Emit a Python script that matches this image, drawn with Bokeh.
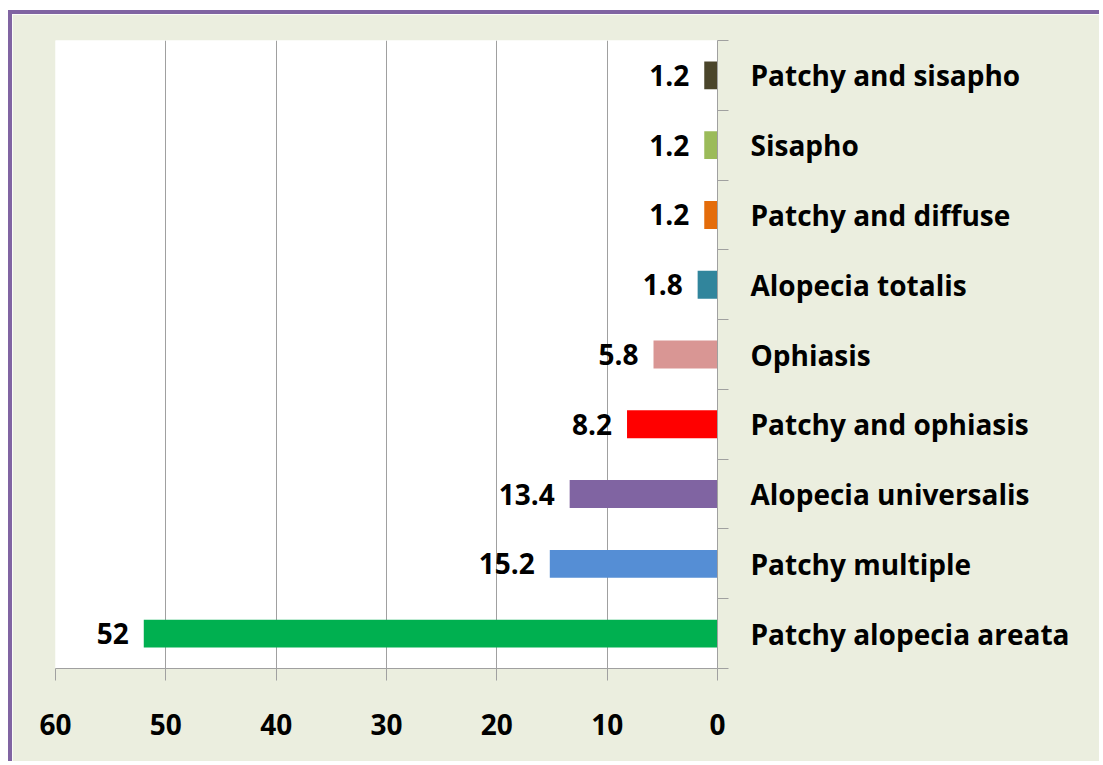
from bokeh.plotting import figure
from bokeh.models import Range1d, FixedTicker, LinearAxis, ColumnDataSource
from bokeh.core.properties import value
from bokeh.embed import file_html
from bokeh.resources import INLINE

categories = ["Patchy alopecia areata", "Patchy multiple", "Alopecia universalis",
              "Patchy and ophiasis", "Ophiasis", "Alopecia totalis",
              "Patchy and diffuse", "Sisapho", "Patchy and sisapho"]
values = [52, 15.2, 13.4, 8.2, 5.8, 1.8, 1.2, 1.2, 1.2]
value_labels = ["52", "15.2", "13.4", "8.2", "5.8", "1.8", "1.2", "1.2", "1.2"]
colors = ["#00B050", "#558ED5", "#8064A2", "#FF0000", "#D99694",
          "#31859C", "#E46C0A", "#9BBB59", "#4A452A"]
x_ticks = [0, 10, 20, 30, 40, 50, 60]

FONT = "Open Sans"
FSIZE = "28px"
BG = "#EBEEDF"
GRID = "#A0A0A0"

ypos = [i + 0.5 for i in range(len(categories))]
src = ColumnDataSource(dict(y=ypos, v=values, lab=value_labels, c=colors))

p = figure(width=1091, height=751, output_backend="svg", toolbar_location=None,
           x_range=Range1d(60, 0), y_range=Range1d(0, len(categories)),
           x_axis_location=None, y_axis_location=None,
           min_border_left=43, min_border_right=386, min_border_top=26, min_border_bottom=97,
           background_fill_color="white", border_fill_color=BG,
           styles={"border-left": "4px solid #8064A2", "border-top": "4px solid #8064A2",
                   "margin-top": "10px", "margin-left": "8px"})
p.outline_line_color = None

p.hbar(y="y", left=0, right="v", height=0.4, color="c", line_color=None, source=src)
p.text(x="v", y="y", text="lab", source=src, text_align="right", text_baseline="middle",
       x_offset=-15, text_font=value(FONT), text_font_style="bold", text_font_size=FSIZE,
       text_color="black")

xaxis = LinearAxis(ticker=FixedTicker(ticks=x_ticks))
xaxis.axis_line_color = GRID
xaxis.major_tick_line_color = GRID
xaxis.major_tick_out = 12
xaxis.major_tick_in = 0
xaxis.minor_tick_line_color = None
xaxis.major_label_standoff = 33
xaxis.major_label_text_font = FONT
xaxis.major_label_text_font_style = "bold"
xaxis.major_label_text_font_size = FSIZE
xaxis.major_label_text_color = "black"
p.add_layout(xaxis, "below")

yaxis = LinearAxis(ticker=FixedTicker(ticks=ypos, minor_ticks=list(range(len(categories) + 1))),
                   major_label_overrides={y: c for y, c in zip(ypos, categories)})
yaxis.axis_line_color = GRID
yaxis.major_tick_line_color = None
yaxis.major_tick_out = 0
yaxis.major_tick_in = 0
yaxis.minor_tick_line_color = GRID
yaxis.minor_tick_out = 11
yaxis.minor_tick_in = 0
yaxis.major_label_standoff = 22
yaxis.major_label_text_font = FONT
yaxis.major_label_text_font_style = "bold"
yaxis.major_label_text_font_size = FSIZE
yaxis.major_label_text_color = "black"
p.add_layout(yaxis, "right")

p.xgrid.grid_line_color = GRID
p.xgrid.ticker = FixedTicker(ticks=x_ticks)
p.ygrid.grid_line_color = None

open("out.html", "w").write(file_html(p, INLINE))
